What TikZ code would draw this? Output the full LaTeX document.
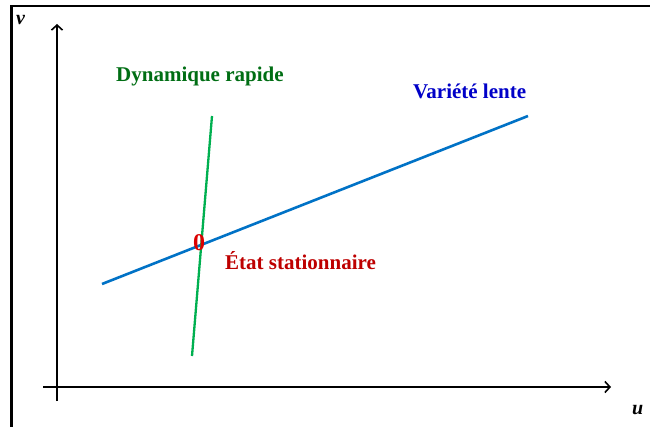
\documentclass[tikz,border=0pt]{standalone}
\usepackage{fontspec}
\setmainfont{Liberation Serif}
\usetikzlibrary{arrows.meta}
\definecolor{slowblue}{RGB}{0,114,198}
\definecolor{fastgreen}{RGB}{0,176,80}
\definecolor{dgreen}{RGB}{0,110,20}
\definecolor{lblue}{RGB}{0,0,200}
\definecolor{dred}{RGB}{190,0,0}
\definecolor{zred}{RGB}{220,0,0}
\tikzset{
  axis/.style={line width=2pt,-{Straight Barb[length=5pt,width=11pt,line width=1.6pt]}},
  lab/.style={font=\bfseries\fontsize{21}{23}\selectfont,inner sep=0pt,anchor=base west},
  axlab/.style={font=\bfseries\itshape\fontsize{20}{22}\selectfont,inner sep=0pt,anchor=base west},
}
\begin{document}
\begin{tikzpicture}[x=1pt,y=-1pt]
\useasboundingbox (0,0) rectangle (650,427);
\fill[white] (0,0) rectangle (650,427);
% frame
\draw[line width=2.2pt] (11.5,440) -- (11.5,6) -- (660,6);
% axes
\coordinate (yb) at (57,401);
\coordinate (yt) at (57,24);
\coordinate (xl) at (43,387);
\coordinate (xr) at (611,387);
\draw[axis] (yb) -- (yt);
\draw[axis] (xl) -- (xr);
\node[axlab] (v) at (16,25) {v};
\node[axlab] (u) at (632,414) {u};
% lines
\coordinate (b1) at (102,284);
\coordinate (b2) at (528,116);
\coordinate (g1) at (192,356);
\coordinate (g2) at (212,116);
\draw[slowblue,line width=2.6pt] (b1) -- (b2);
\draw[fastgreen,line width=2.3pt] (g1) -- (g2);
% labels
\node[lab,text=dgreen] (dyn) at (116,82) {Dynamique rapide};
\node[lab,text=lblue] (var) at (413,99) {Variété lente};
\node[lab,text=dred] (etat) at (225,270) {État stationnaire};
\node[font=\bfseries\fontsize{24}{26}\selectfont,text=zred,inner sep=0pt,anchor=base] (zero) at (199,251) {0};
\end{tikzpicture}
\end{document}
